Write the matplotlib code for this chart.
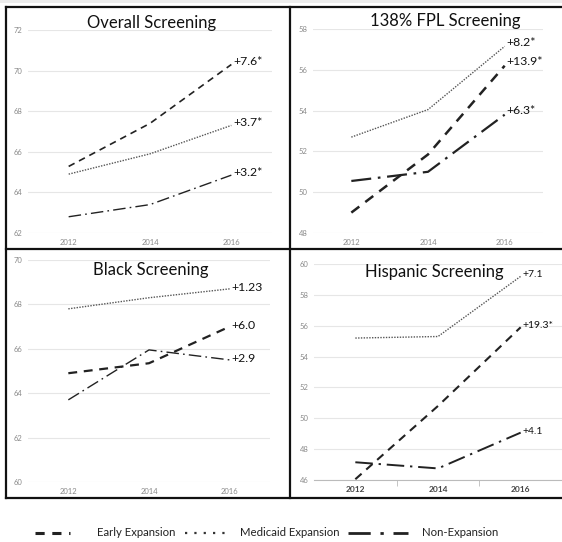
import matplotlib
matplotlib.use("Agg")
import matplotlib.pyplot as plt
from matplotlib.lines import Line2D
from matplotlib.patches import Rectangle

plt.rcParams['font.family'] = ['Lato', 'DejaVu Sans']

W, H = 562, 542
DPI = 100

years = ["2012", "2014", "2016"]

# Screening rates (%) by expansion group
overall_early = [65.28, 67.4, 70.3]
overall_medicaid = [64.9, 65.9, 67.3]
overall_non = [62.8, 63.4, 64.85]
overall_labels = ["+7.6*", "+3.7*", "+3.2*"]

fpl_early = [49.0, 51.85, 56.2]
fpl_medicaid = [52.7, 54.05, 57.15]
fpl_non = [50.55, 51.0, 53.8]
fpl_labels = ["+13.9*", "+8.2*", "+6.3*"]

black_early = [64.9, 65.35, 67.0]
black_medicaid = [67.8, 68.3, 68.7]
black_non = [63.7, 65.95, 65.5]
black_labels = ["+6.0", "+1.23", "+2.9"]

hisp_early = [46.05, 50.8, 55.9]
hisp_medicaid = [55.2, 55.3, 59.2]
hisp_non = [47.15, 46.75, 49.07]
hisp_labels = ["+19.3*", "+7.1", "+4.1"]

group_names = ["Early Expansion", "Medicaid Expansion", "Non-Expansion"]

EARLY = dict(color="#222222", linestyle=(0, (4, 3)))
MEDICAID = dict(color="#555555", linestyle=(0, (1, 1)))
NON = dict(color="#222222", linestyle=(0, (9, 3, 1.2, 3)))

fig = plt.figure(figsize=(W / DPI, H / DPI), dpi=DPI)
fig.patch.set_facecolor("white")


def rect(l, t, r, b):
    return [l / W, 1 - b / H, (r - l) / W, (b - t) / H]


def fx(px):
    return px / W


def fy(py):
    return 1 - py / H


def panel(box, ylim, yticks, title, title_xy, series, labels, lw_early,
          lw_non, label_size, label_dy, tick_dark=False):
    ax = fig.add_axes(rect(*box))
    x = list(range(len(years)))
    ax.set_xlim(-0.5, 2.5)
    ax.set_ylim(*ylim)
    ax.set_yticks(yticks)
    ax.set_yticklabels([str(v) for v in yticks])
    ax.set_xticks(x)
    ax.set_xticklabels(years)
    ax.grid(axis="y", color="#e6e6e6", linewidth=0.8)
    ax.set_axisbelow(True)
    for s in ax.spines.values():
        s.set_visible(False)
    ax.tick_params(axis="both", length=0, labelsize=5.5, labelcolor="#8a8a8a",
                   pad=4)
    if tick_dark:
        ax.spines["bottom"].set_visible(True)
        ax.spines["bottom"].set_color("#bbbbbb")
        ax.spines["bottom"].set_linewidth(0.8)
        ax.set_xticks([0.5, 1.5, 2.5], minor=True)
        ax.tick_params(axis="x", which="minor", length=4, color="#bbbbbb")
        ax.tick_params(axis="x", which="major", labelcolor="#444444",
                       labelsize=6)
        for t in ax.get_xticklabels():
            t.set_fontweight("bold")
    early, medicaid, non = series
    ax.plot(x, early, linewidth=lw_early, **EARLY)
    ax.plot(x, medicaid, linewidth=1.0, **MEDICAID)
    ax.plot(x, non, linewidth=lw_non, **NON)
    for vals, lab in zip(series, labels):
        ax.annotate(lab, (2, vals[-1]), xytext=(1.5, label_dy),
                    textcoords="offset points", ha="left", va="center",
                    fontsize=label_size, color="#111111")
    fig.text(fx(title_xy[0]), fy(title_xy[1]), title, ha="center",
             va="center", fontsize=12, color="#111111")
    return ax


panel((28, 30, 272, 233), (62, 72), list(range(62, 73, 2)),
      "Overall Screening", (152, 23),
      (overall_early, overall_medicaid, overall_non), overall_labels,
      1.2, 1.0, 8.8, 2)
panel((313, 29, 543, 233), (48, 58), list(range(48, 59, 2)),
      "138% FPL Screening", (445, 21),
      (fpl_early, fpl_medicaid, fpl_non), fpl_labels,
      1.8, 1.6, 8.8, 3)
panel((28, 260, 270, 482), (60, 70), list(range(60, 71, 2)),
      "Black Screening", (151, 270),
      (black_early, black_medicaid, black_non), black_labels,
      1.6, 1.0, 8.8, 1)
panel((314, 264, 562, 480), (46, 60), list(range(46, 61, 2)),
      "Hispanic Screening", (434, 272),
      (hisp_early, hisp_medicaid, hisp_non), hisp_labels,
      1.5, 1.4, 7.5, 1, tick_dark=True)

# Panel frame and dividers
fig.add_artist(Rectangle((0, fy(3)), 1, 3 / H, transform=fig.transFigure,
                         facecolor="#ececec", edgecolor="none"))
frame_kw = dict(color="#111111", linewidth=1.6, transform=fig.transFigure)
for (x0, y0, x1, y1) in [(6, 7, 562, 7), (6, 249, 562, 249), (6, 498, 562, 498),
                         (6, 7, 6, 498), (290, 7, 290, 498)]:
    fig.add_artist(Line2D([fx(x0), fx(x1)], [fy(y0), fy(y1)], **frame_kw))

# Legend row along the bottom
legend_y = 533
legend_items = [
    ((35, 70), 97, dict(linewidth=2.2, color="#222222", linestyle=(0, (3, 2.5)))),
    ((185, 227), 240, dict(linewidth=1.6, color="#333333", linestyle=(0, (1, 3.2)))),
    ((348, 408), 422, dict(linewidth=2.0, color="#222222",
                           linestyle=(0, (8, 3.5, 1.2, 3.5)))),
]
for name, ((hx0, hx1), tx, style) in zip(group_names, legend_items):
    fig.add_artist(Line2D([fx(hx0), fx(hx1)], [fy(legend_y), fy(legend_y)],
                          transform=fig.transFigure, **style))
    fig.text(fx(tx), fy(legend_y), name, ha="left", va="center",
             fontsize=8.2, color="#222222")

fig.savefig("out.png", dpi=DPI)
